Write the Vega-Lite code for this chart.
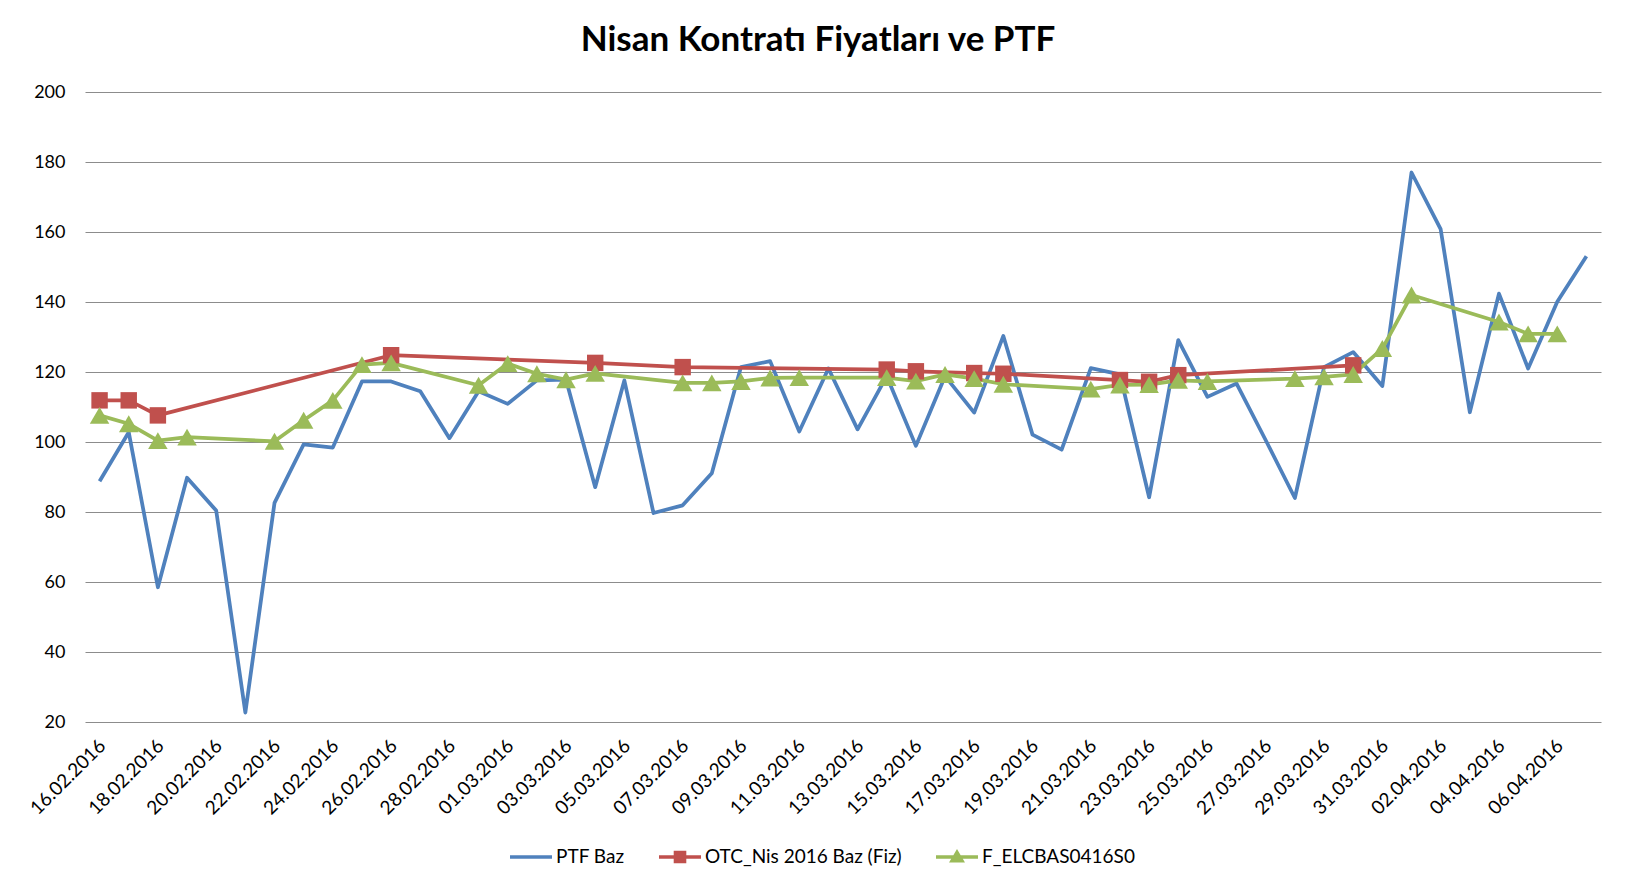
{
  "$schema": "https://vega.github.io/schema/vega-lite/v6.json",
  "autosize": {"type": "none"},
  "width": 1516,
  "height": 630,
  "padding": {"left": 85, "top": 92, "right": 32, "bottom": 168},
  "background": "#ffffff",
  "config": {
    "view": {"stroke": null},
    "font": "Lato"
  },
  "title": {
    "text": "Nisan Kontratı Fiyatları ve PTF",
    "font": "Lato",
    "fontSize": 35,
    "fontWeight": "bold",
    "color": "#000000",
    "anchor": "middle",
    "frame": "group",
    "baseline": "alphabetic",
    "offset": 24,
    "dx": -25,
    "dy": 27
  },
  "datasets": {
    "prices": [
      {"date": "2016-02-16T00:00:00", "series": "PTF Baz", "value": 88.8},
      {"date": "2016-02-17T00:00:00", "series": "PTF Baz", "value": 102.8},
      {"date": "2016-02-18T00:00:00", "series": "PTF Baz", "value": 58.5},
      {"date": "2016-02-19T00:00:00", "series": "PTF Baz", "value": 89.8},
      {"date": "2016-02-20T00:00:00", "series": "PTF Baz", "value": 80.4},
      {"date": "2016-02-21T00:00:00", "series": "PTF Baz", "value": 22.7},
      {"date": "2016-02-22T00:00:00", "series": "PTF Baz", "value": 82.6},
      {"date": "2016-02-23T00:00:00", "series": "PTF Baz", "value": 99.3},
      {"date": "2016-02-24T00:00:00", "series": "PTF Baz", "value": 98.4},
      {"date": "2016-02-25T00:00:00", "series": "PTF Baz", "value": 117.3},
      {"date": "2016-02-26T00:00:00", "series": "PTF Baz", "value": 117.3},
      {"date": "2016-02-27T00:00:00", "series": "PTF Baz", "value": 114.5},
      {"date": "2016-02-28T00:00:00", "series": "PTF Baz", "value": 101.1},
      {"date": "2016-02-29T00:00:00", "series": "PTF Baz", "value": 114.5},
      {"date": "2016-03-01T00:00:00", "series": "PTF Baz", "value": 110.9},
      {"date": "2016-03-02T00:00:00", "series": "PTF Baz", "value": 117.6},
      {"date": "2016-03-03T00:00:00", "series": "PTF Baz", "value": 117.8},
      {"date": "2016-03-04T00:00:00", "series": "PTF Baz", "value": 87.1},
      {"date": "2016-03-05T00:00:00", "series": "PTF Baz", "value": 117.6},
      {"date": "2016-03-06T00:00:00", "series": "PTF Baz", "value": 79.7},
      {"date": "2016-03-07T00:00:00", "series": "PTF Baz", "value": 81.9},
      {"date": "2016-03-08T00:00:00", "series": "PTF Baz", "value": 91.1},
      {"date": "2016-03-09T00:00:00", "series": "PTF Baz", "value": 121.4},
      {"date": "2016-03-10T00:00:00", "series": "PTF Baz", "value": 123.1},
      {"date": "2016-03-11T00:00:00", "series": "PTF Baz", "value": 103.0},
      {"date": "2016-03-12T00:00:00", "series": "PTF Baz", "value": 121.0},
      {"date": "2016-03-13T00:00:00", "series": "PTF Baz", "value": 103.6},
      {"date": "2016-03-14T00:00:00", "series": "PTF Baz", "value": 118.8},
      {"date": "2016-03-15T00:00:00", "series": "PTF Baz", "value": 98.9},
      {"date": "2016-03-16T00:00:00", "series": "PTF Baz", "value": 118.8},
      {"date": "2016-03-17T00:00:00", "series": "PTF Baz", "value": 108.4},
      {"date": "2016-03-18T00:00:00", "series": "PTF Baz", "value": 130.3},
      {"date": "2016-03-19T00:00:00", "series": "PTF Baz", "value": 102.1},
      {"date": "2016-03-20T00:00:00", "series": "PTF Baz", "value": 97.8},
      {"date": "2016-03-21T00:00:00", "series": "PTF Baz", "value": 121.1},
      {"date": "2016-03-22T00:00:00", "series": "PTF Baz", "value": 119.3},
      {"date": "2016-03-23T00:00:00", "series": "PTF Baz", "value": 84.2},
      {"date": "2016-03-24T00:00:00", "series": "PTF Baz", "value": 129.1},
      {"date": "2016-03-25T00:00:00", "series": "PTF Baz", "value": 112.9},
      {"date": "2016-03-26T00:00:00", "series": "PTF Baz", "value": 116.7},
      {"date": "2016-03-27T00:00:00", "series": "PTF Baz", "value": 100.5},
      {"date": "2016-03-28T00:00:00", "series": "PTF Baz", "value": 84.0},
      {"date": "2016-03-29T00:00:00", "series": "PTF Baz", "value": 121.4},
      {"date": "2016-03-30T00:00:00", "series": "PTF Baz", "value": 125.7},
      {"date": "2016-03-31T00:00:00", "series": "PTF Baz", "value": 116.0},
      {"date": "2016-04-01T00:00:00", "series": "PTF Baz", "value": 177.0},
      {"date": "2016-04-02T00:00:00", "series": "PTF Baz", "value": 160.8},
      {"date": "2016-04-03T00:00:00", "series": "PTF Baz", "value": 108.5},
      {"date": "2016-04-04T00:00:00", "series": "PTF Baz", "value": 142.4},
      {"date": "2016-04-05T00:00:00", "series": "PTF Baz", "value": 121.0},
      {"date": "2016-04-06T00:00:00", "series": "PTF Baz", "value": 140.1},
      {"date": "2016-04-07T00:00:00", "series": "PTF Baz", "value": 153.1},
      {"date": "2016-02-16T00:00:00", "series": "OTC_Nis 2016 Baz (Fiz)", "value": 111.9},
      {"date": "2016-02-17T00:00:00", "series": "OTC_Nis 2016 Baz (Fiz)", "value": 111.9},
      {"date": "2016-02-18T00:00:00", "series": "OTC_Nis 2016 Baz (Fiz)", "value": 107.6},
      {"date": "2016-02-26T00:00:00", "series": "OTC_Nis 2016 Baz (Fiz)", "value": 124.8},
      {"date": "2016-03-04T00:00:00", "series": "OTC_Nis 2016 Baz (Fiz)", "value": 122.6},
      {"date": "2016-03-07T00:00:00", "series": "OTC_Nis 2016 Baz (Fiz)", "value": 121.4},
      {"date": "2016-03-14T00:00:00", "series": "OTC_Nis 2016 Baz (Fiz)", "value": 120.7},
      {"date": "2016-03-15T00:00:00", "series": "OTC_Nis 2016 Baz (Fiz)", "value": 120.2},
      {"date": "2016-03-17T00:00:00", "series": "OTC_Nis 2016 Baz (Fiz)", "value": 119.7},
      {"date": "2016-03-18T00:00:00", "series": "OTC_Nis 2016 Baz (Fiz)", "value": 119.5},
      {"date": "2016-03-22T00:00:00", "series": "OTC_Nis 2016 Baz (Fiz)", "value": 117.7},
      {"date": "2016-03-23T00:00:00", "series": "OTC_Nis 2016 Baz (Fiz)", "value": 117.2},
      {"date": "2016-03-24T00:00:00", "series": "OTC_Nis 2016 Baz (Fiz)", "value": 119.1},
      {"date": "2016-03-30T00:00:00", "series": "OTC_Nis 2016 Baz (Fiz)", "value": 121.9},
      {"date": "2016-02-16T00:00:00", "series": "F_ELCBAS0416S0", "value": 107.6},
      {"date": "2016-02-17T00:00:00", "series": "F_ELCBAS0416S0", "value": 105.2},
      {"date": "2016-02-18T00:00:00", "series": "F_ELCBAS0416S0", "value": 100.4},
      {"date": "2016-02-19T00:00:00", "series": "F_ELCBAS0416S0", "value": 101.4},
      {"date": "2016-02-22T00:00:00", "series": "F_ELCBAS0416S0", "value": 100.2},
      {"date": "2016-02-23T00:00:00", "series": "F_ELCBAS0416S0", "value": 106.2},
      {"date": "2016-02-24T00:00:00", "series": "F_ELCBAS0416S0", "value": 111.9},
      {"date": "2016-02-25T00:00:00", "series": "F_ELCBAS0416S0", "value": 122.1},
      {"date": "2016-02-26T00:00:00", "series": "F_ELCBAS0416S0", "value": 122.6},
      {"date": "2016-02-29T00:00:00", "series": "F_ELCBAS0416S0", "value": 116.2},
      {"date": "2016-03-01T00:00:00", "series": "F_ELCBAS0416S0", "value": 122.4},
      {"date": "2016-03-02T00:00:00", "series": "F_ELCBAS0416S0", "value": 119.5},
      {"date": "2016-03-03T00:00:00", "series": "F_ELCBAS0416S0", "value": 117.8},
      {"date": "2016-03-04T00:00:00", "series": "F_ELCBAS0416S0", "value": 119.6},
      {"date": "2016-03-07T00:00:00", "series": "F_ELCBAS0416S0", "value": 116.9},
      {"date": "2016-03-08T00:00:00", "series": "F_ELCBAS0416S0", "value": 116.9},
      {"date": "2016-03-09T00:00:00", "series": "F_ELCBAS0416S0", "value": 117.3},
      {"date": "2016-03-10T00:00:00", "series": "F_ELCBAS0416S0", "value": 118.3},
      {"date": "2016-03-11T00:00:00", "series": "F_ELCBAS0416S0", "value": 118.4},
      {"date": "2016-03-14T00:00:00", "series": "F_ELCBAS0416S0", "value": 118.4},
      {"date": "2016-03-15T00:00:00", "series": "F_ELCBAS0416S0", "value": 117.4},
      {"date": "2016-03-16T00:00:00", "series": "F_ELCBAS0416S0", "value": 119.3},
      {"date": "2016-03-17T00:00:00", "series": "F_ELCBAS0416S0", "value": 118.1},
      {"date": "2016-03-18T00:00:00", "series": "F_ELCBAS0416S0", "value": 116.5},
      {"date": "2016-03-21T00:00:00", "series": "F_ELCBAS0416S0", "value": 115.1},
      {"date": "2016-03-22T00:00:00", "series": "F_ELCBAS0416S0", "value": 116.3},
      {"date": "2016-03-23T00:00:00", "series": "F_ELCBAS0416S0", "value": 116.4},
      {"date": "2016-03-24T00:00:00", "series": "F_ELCBAS0416S0", "value": 117.6},
      {"date": "2016-03-25T00:00:00", "series": "F_ELCBAS0416S0", "value": 117.3},
      {"date": "2016-03-28T00:00:00", "series": "F_ELCBAS0416S0", "value": 118.1},
      {"date": "2016-03-29T00:00:00", "series": "F_ELCBAS0416S0", "value": 118.6},
      {"date": "2016-03-30T00:00:00", "series": "F_ELCBAS0416S0", "value": 119.3},
      {"date": "2016-03-31T00:00:00", "series": "F_ELCBAS0416S0", "value": 126.7},
      {"date": "2016-04-01T00:00:00", "series": "F_ELCBAS0416S0", "value": 142.0},
      {"date": "2016-04-04T00:00:00", "series": "F_ELCBAS0416S0", "value": 134.3},
      {"date": "2016-04-05T00:00:00", "series": "F_ELCBAS0416S0", "value": 130.9},
      {"date": "2016-04-06T00:00:00", "series": "F_ELCBAS0416S0", "value": 130.9}
    ]
  },
  "data": {"name": "prices"},
  "encoding": {
    "x": {
      "field": "date",
      "type": "temporal",
      "scale": {
        "domain": [
          {"year": 2016, "month": 2, "date": 15, "hours": 12},
          {"year": 2016, "month": 4, "date": 7, "hours": 12}
        ]
      },
      "axis": {
        "title": null,
        "format": "%d.%m.%Y",
        "labelAngle": -45,
        "labelAlign": "right",
        "labelBaseline": "top",
        "labelFont": "Lato",
        "labelFontSize": 19,
        "labelColor": "#000000",
        "labelPadding": 14,
        "labelOffset": -4,
        "labelOverlap": false,
        "labelBound": false,
        "labelFlush": false,
        "ticks": false,
        "domain": false,
        "grid": false,
        "values": [
          {"year": 2016, "month": 2, "date": 16},
          {"year": 2016, "month": 2, "date": 18},
          {"year": 2016, "month": 2, "date": 20},
          {"year": 2016, "month": 2, "date": 22},
          {"year": 2016, "month": 2, "date": 24},
          {"year": 2016, "month": 2, "date": 26},
          {"year": 2016, "month": 2, "date": 28},
          {"year": 2016, "month": 3, "date": 1},
          {"year": 2016, "month": 3, "date": 3},
          {"year": 2016, "month": 3, "date": 5},
          {"year": 2016, "month": 3, "date": 7},
          {"year": 2016, "month": 3, "date": 9},
          {"year": 2016, "month": 3, "date": 11},
          {"year": 2016, "month": 3, "date": 13},
          {"year": 2016, "month": 3, "date": 15},
          {"year": 2016, "month": 3, "date": 17},
          {"year": 2016, "month": 3, "date": 19},
          {"year": 2016, "month": 3, "date": 21},
          {"year": 2016, "month": 3, "date": 23},
          {"year": 2016, "month": 3, "date": 25},
          {"year": 2016, "month": 3, "date": 27},
          {"year": 2016, "month": 3, "date": 29},
          {"year": 2016, "month": 3, "date": 31},
          {"year": 2016, "month": 4, "date": 2},
          {"year": 2016, "month": 4, "date": 4},
          {"year": 2016, "month": 4, "date": 6}
        ]
      }
    },
    "y": {
      "field": "value",
      "type": "quantitative",
      "scale": {"domain": [20, 200], "nice": false, "zero": false},
      "axis": {
        "title": null,
        "values": [20, 40, 60, 80, 100, 120, 140, 160, 180, 200],
        "labelFont": "Lato",
        "labelFontSize": 18,
        "labelColor": "#000000",
        "labelPadding": 20,
        "ticks": false,
        "domain": false,
        "grid": true,
        "gridColor": "#8c8c8c",
        "gridWidth": 1.2
      }
    },
    "color": {
      "field": "series",
      "type": "nominal",
      "scale": {
        "domain": ["PTF Baz", "OTC_Nis 2016 Baz (Fiz)", "F_ELCBAS0416S0"],
        "range": ["#4F81BD", "#C0504D", "#9BBB59"]
      },
      "legend": {
        "title": null,
        "orient": "none",
        "direction": "horizontal",
        "legendX": 425,
        "legendY": 744,
        "padding": 0,
        "symbolSize": 1764,
        "symbolStrokeWidth": 0,
        "labelFont": "Lato",
        "labelFontSize": 19,
        "labelColor": "#000000",
        "labelOffset": 4,
        "columnPadding": 34,
        "labelLimit": 400,
        "encoding": {
          "symbols": {
            "shape": {"value": {"expr": "datum.value == 'PTF Baz' ? 'M-1,-0.085H1V0.085H-1Z' : datum.value == 'F_ELCBAS0416S0' ? 'M-1,-0.085H-0.175L0,-0.38L0.175,-0.085H1V0.085H0.276L0.38,0.26H-0.38L-0.276,0.085H-1Z' : 'M-1,-0.085H-0.3V-0.3H0.3V-0.085H1V0.085H0.3V0.3H-0.3V0.085H-1Z'"}},
            "fill": {"value": {"expr": "scale('color', datum.value)"}},
            "stroke": {"value": "transparent"},
            "opacity": {"value": 1},
            "fillOpacity": {"value": 1}
          }
        }
      }
    }
  },
  "layer": [
    {
      "mark": {"type": "line", "strokeWidth": 3.75, "strokeJoin": "round"},
      "encoding": {"order": {"field": "date", "type": "temporal"}}
    },
    {
      "transform": [{"filter": "datum.series == 'OTC_Nis 2016 Baz (Fiz)'"}],
      "mark": {"type": "point", "shape": "square", "filled": true, "size": 270, "opacity": 1}
    },
    {
      "transform": [{"filter": "datum.series == 'F_ELCBAS0416S0'"}],
      "mark": {"type": "point", "shape": "triangle-up", "filled": true, "size": 380, "opacity": 1}
    }
  ]
}
